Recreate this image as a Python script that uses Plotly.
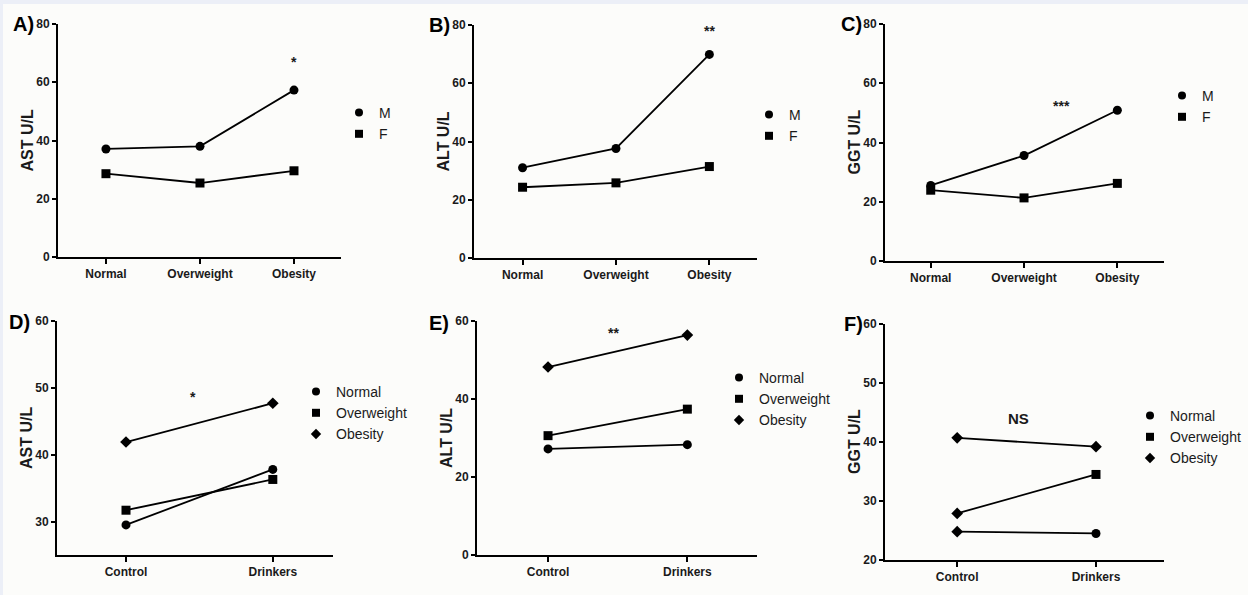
import plotly.graph_objects as go

# ---------------- data ----------------
bmi_cats = ["Normal", "Overweight", "Obesity"]
grp_cats = ["Control", "Drinkers"]

ast_m = [37.1, 38.0, 57.3]
ast_f = [28.6, 25.4, 29.6]
alt_m = [31.0, 37.6, 69.9]
alt_f = [24.3, 25.8, 31.4]
ggt_m = [25.5, 35.6, 50.9]
ggt_f = [23.9, 21.3, 26.2]

ast_normal = [29.5, 37.8]
ast_over = [31.7, 36.3]
ast_obes = [41.9, 47.7]
alt_normal = [27.2, 28.3]
alt_over = [30.6, 37.4]
alt_obes = [48.2, 56.4]
ggt_normal = [24.8, 24.5]
ggt_over = [27.9, 34.5]
ggt_obes = [40.7, 39.2]

sex_labels = ["M", "F"]
bmi_labels = ["Normal", "Overweight", "Obesity"]
panel_labels = ["A)", "B)", "C)", "D)", "E)", "F)"]
y_titles = ["AST U/L", "ALT U/L", "GGT U/L", "AST U/L", "ALT U/L", "GGT U/L"]
sig_text = ["*", "**", "***", "*", "**", "NS"]
sig_x = [2, 2, 1.4, 0.455, 0.467, 0.44]
sig_y = [66.8, 77.8, 52.2, 48.6, 56.8, 44.0]

# ---------------- layout geometry (pixels) ----------------
W, H = 1248, 595
# (left, right, top, bottom) in px
boxes = [
    (58, 341, 24, 257),
    (474, 757, 25, 258),
    (885, 1164, 24, 261),
    (57, 333, 321, 555),
    (477, 757, 321, 555),
    (885, 1164, 324, 560),
]
x_ranges = [[-0.51, 2.5], [-0.52, 2.51], [-0.49, 2.5],
            [-0.47, 1.41], [-0.51, 1.5], [-0.52, 1.49]]
y_ranges = [[0, 80], [0, 80], [0, 80], [25, 60], [0, 60], [20, 60]]
y_ticks = [[0, 20, 40, 60, 80]] * 3 + [[30, 40, 50, 60], [0, 20, 40, 60], [20, 30, 40, 50, 60]]
legend_pos = [(339, 97), (749, 99), (1162, 80), (296, 376), (719, 362), (1130, 400)]
label_pos = [(23, 24), (439, 25), (851, 24), (19, 322), (439, 323), (853, 324)]

NARROW = "Liberation Sans Narrow, Arial Narrow, Liberation Sans, Arial, sans-serif"
REG = "Liberation Sans, Arial, sans-serif"

fig = go.Figure()

sym_sex = ["circle", "square"]
sym_bmi = ["circle", "square", "diamond"]
msize = {"circle": 9, "square": 9, "diamond": 9}
lsize = {"circle": 8, "square": 8, "diamond": 8}

top_series = [(ast_m, ast_f), (alt_m, alt_f), (ggt_m, ggt_f)]
bot_series = [(ast_normal, ast_over, ast_obes), (alt_normal, alt_over, alt_obes),
              (ggt_normal, ggt_over, ggt_obes)]

def axname(i):
    return "" if i == 0 else str(i + 1)

line_style = dict(color="black", width=1.8)

for i in range(6):
    xa = "x" + axname(i)
    ya = "y" + axname(i)
    leg = "legend" + axname(i)
    if i < 3:
        series = top_series[i]
        names = sex_labels
        syms = sym_sex
        cats = bmi_cats
    else:
        series = bot_series[i - 3]
        names = bmi_labels
        syms = sym_bmi
        cats = grp_cats
    for k, vals in enumerate(series):
        point_syms = [syms[k]] * len(vals)
        if i == 5 and k < 2:
            # in the original panel F the control points are drawn as diamonds
            point_syms[0] = "diamond"
        fig.add_trace(go.Scatter(
            x=cats, y=vals, mode="lines+markers", xaxis=xa, yaxis=ya,
            line=line_style,
            marker=dict(symbol=point_syms, size=[msize[s] for s in point_syms],
                        color="black", opacity=1, line=dict(width=0)),
            showlegend=False, hoverinfo="x+y", name=names[k]))
        fig.add_trace(go.Scatter(
            x=[None], y=[None], mode="markers", xaxis=xa, yaxis=ya,
            marker=dict(symbol=syms[k], size=lsize[syms[k]], color="black",
                        opacity=1, line=dict(width=0)),
            name=names[k], legend=leg, showlegend=True))

BAND = "#eceff7"
layout = dict(
    width=W, height=H,
    margin=dict(l=0, r=0, t=0, b=0, pad=0, autoexpand=False),
    paper_bgcolor="#fcfcfa", plot_bgcolor="rgba(0,0,0,0)",
    showlegend=True,
    shapes=[
        dict(type="rect", xref="paper", yref="paper", x0=0, x1=1, y0=1 - 4 / H, y1=1,
             fillcolor=BAND, line=dict(width=0), layer="below"),
        dict(type="rect", xref="paper", yref="paper", x0=0, x1=3 / W, y0=0, y1=1,
             fillcolor=BAND, line=dict(width=0), layer="below"),
    ],
)
annotations = []
for i in range(6):
    l, r, t, b = boxes[i]
    cats = bmi_cats if i < 3 else grp_cats
    layout["xaxis" + axname(i)] = dict(
        domain=[l / W, r / W], anchor="y" + axname(i), type="category",
        categoryorder="array", categoryarray=cats, automargin=False,
        range=x_ranges[i], showline=True, linecolor="black", linewidth=1.8,
        ticks="outside", ticklen=5, tickwidth=1.5, tickcolor="black",
        showgrid=False, zeroline=False, fixedrange=True,
        tickfont=dict(family=REG, size=12, color="#1a1a1a", weight="bold"))
    layout["yaxis" + axname(i)] = dict(
        domain=[1 - b / H, 1 - t / H], anchor="x" + axname(i), automargin=False,
        range=y_ranges[i], tickvals=y_ticks[i], showline=True, linecolor="black",
        linewidth=1.8, ticks="outside", ticklen=4, tickwidth=1.5, tickcolor="black",
        showgrid=False, zeroline=False, fixedrange=True,
        tickfont=dict(family=NARROW, size=12, color="#1a1a1a", weight="bold"))
    lx, ly = legend_pos[i]
    layout["legend" + axname(i)] = dict(
        x=lx / W, y=1 - ly / H, xanchor="left", yanchor="top",
        bgcolor="rgba(0,0,0,0)", borderwidth=0,
        font=dict(family=REG, size=14, color="#1a1a1a"),
        tracegroupgap=0, itemclick=False, itemdoubleclick=False)
    # y-axis title
    annotations.append(dict(
        text=y_titles[i], xref="x" + axname(i) + " domain", yref="y" + axname(i) + " domain",
        x=-31 / (r - l), y=0.5, showarrow=False, textangle=-90,
        xanchor="center", yanchor="middle",
        font=dict(family=REG, size=16, color="#1a1a1a", weight="bold")))
    # significance marks
    annotations.append(dict(
        text=sig_text[i], xref="x" + axname(i), yref="y" + axname(i),
        x=sig_x[i], y=sig_y[i], showarrow=False, xanchor="center", yanchor="middle",
        font=dict(family=REG, size=15 if sig_text[i] == "NS" else 14,
                  color="#1a1a1a", weight="bold")))
    # panel labels
    px_, py_ = label_pos[i]
    annotations.append(dict(
        text=panel_labels[i], xref="paper", yref="paper", x=px_ / W, y=1 - py_ / H,
        showarrow=False, xanchor="center", yanchor="middle",
        font=dict(family=REG, size=20, color="black", weight="bold")))
layout["annotations"] = annotations
fig.update_layout(**layout)

fig.write_html("out.html", config={"displayModeBar": False},
               post_script="document.body.style.margin='0';document.body.style.overflow='hidden';")
